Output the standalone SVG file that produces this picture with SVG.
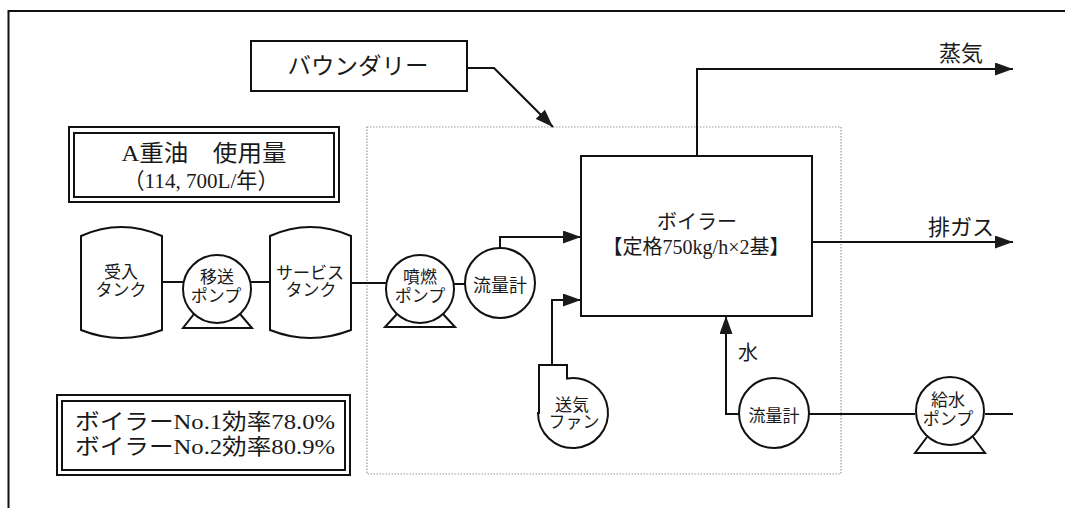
<svg xmlns="http://www.w3.org/2000/svg" width="1065" height="508" viewBox="0 0 1065 508">
<defs>
<marker id="ah" viewBox="0 0 18 13" refX="18" refY="6.5" markerWidth="18" markerHeight="13" markerUnits="userSpaceOnUse" orient="auto">
<path d="M0,0 L18,6.5 L0,13 z" fill="#1a1a1a"/>
</marker>
<style>
.ln{fill:none;stroke:#111;stroke-width:2}
.sh{fill:#fff;stroke:#111;stroke-width:2}
.bd{fill:none;stroke:#999;stroke-width:1.2;stroke-dasharray:1.5 1.5}
text{font-family:"Liberation Serif","Noto Sans CJK JP",serif;fill:#1a1a1a;text-anchor:middle}
.s17{font-size:17px}
.s18{font-size:18px}
.s20{font-size:20px}
.s22{font-size:22px}
.s23{font-size:23px}
</style>
</defs>
<rect width="1065" height="508" fill="#fff"/>
<path class="ln" d="M8.5,508 L8.5,11 L1065,11"/>
<rect class="bd" x="367" y="127" width="474" height="347"/>

<g id="connectors">
<path class="ln" d="M162,282 L183,282"/>
<path class="ln" d="M251,282 L270,282"/>
<path class="ln" d="M351,283 L386,283"/>
<path class="ln" d="M454,284 L465,284"/>
<path class="ln" d="M500,248 L500,237 L581,237" marker-end="url(#ah)"/>
<path class="ln" d="M552,365 L552,300 L581,300" marker-end="url(#ah)"/>
<path class="ln" d="M697,156 L697,69 L1013,69" marker-end="url(#ah)"/>
<path class="ln" d="M812,242 L1013,242" marker-end="url(#ah)"/>
<path class="ln" d="M1013,414 L985,414"/>
<path class="ln" d="M915,414 L809,414"/>
<path class="ln" d="M740,414 L726,414 L726,316" marker-end="url(#ah)"/>
<path class="ln" d="M466,68 L494,68 L553,127" marker-end="url(#ah)"/>
</g>

<g id="boundary-label">
<rect class="sh" x="251" y="41" width="216" height="50"/>
<text class="s23" x="358" y="74" textLength="141" lengthAdjust="spacingAndGlyphs">バウンダリー</text>
</g>

<g id="fuel-usage">
<rect class="sh" x="69" y="127" width="270" height="75"/>
<rect class="ln" x="74" y="133" width="260" height="64"/>
<text class="s23" x="204" y="161" textLength="165" lengthAdjust="spacingAndGlyphs">A重油　使用量</text>
<text class="s22" x="201" y="188" textLength="155" lengthAdjust="spacingAndGlyphs">（114, 700L/年）</text>
</g>

<g id="efficiency">
<rect class="sh" x="57" y="395" width="293" height="80"/>
<rect class="ln" x="62" y="401" width="283" height="69"/>
<text class="s22" x="205" y="429" textLength="260" lengthAdjust="spacingAndGlyphs">ボイラーNo.1効率78.0%</text>
<text class="s22" x="205" y="454" textLength="260" lengthAdjust="spacingAndGlyphs">ボイラーNo.2効率80.9%</text>
</g>

<g id="receiving-tank">
<path class="sh" d="M81,236 Q121,218 162,236 L162,330 Q121,346 81,330 Z"/>
<text class="s17" x="121" y="278">受入</text>
<text class="s17" x="121" y="296">タンク</text>
</g>

<g id="transfer-pump">
<polyline class="ln" points="194,314 183,328 252,328 240,314"/>
<circle class="sh" cx="217" cy="289" r="34"/>
<text class="s17" x="217" y="283">移送</text>
<text class="s17" x="216" y="302">ポンプ</text>
</g>

<g id="service-tank">
<path class="sh" d="M270,236 Q310,218 351,236 L351,330 Q310,346 270,330 Z"/>
<text class="s17" x="310" y="279">サービス</text>
<text class="s17" x="311" y="296">タンク</text>
</g>

<g id="burner-pump">
<polyline class="ln" points="397,314 385,327 455,327 443,314"/>
<circle class="sh" cx="420" cy="289" r="34"/>
<text class="s17" x="420" y="283">噴燃</text>
<text class="s17" x="420" y="302">ポンプ</text>
</g>

<g id="flowmeter-fuel">
<circle class="sh" cx="500" cy="283" r="35"/>
<text class="s18" x="500" y="292">流量計</text>
</g>

<g id="fan">
<path class="sh" d="M539,413 L539,365 L567,365 L567,378.5 A35,35 0 1 1 538,413 Z"/>
<text class="s17" x="572" y="411">送気</text>
<text class="s17" x="574" y="428">ファン</text>
</g>

<g id="boiler">
<rect class="sh" x="581" y="156" width="231" height="160"/>
<text class="s20" x="697" y="229">ボイラー</text>
<text class="s20" x="696" y="254">【定格750kg/h×2基】</text>
</g>

<g id="labels">
<text class="s22" x="961" y="61">蒸気</text>
<text class="s22" x="961" y="235">排ガス</text>
<text class="s20" x="748" y="360">水</text>
</g>

<g id="flowmeter-water">
<circle class="sh" cx="774" cy="413" r="35"/>
<text class="s17" x="774" y="422">流量計</text>
</g>

<g id="feed-pump">
<polyline class="ln" points="927,437 915,453 985,453 973,437"/>
<circle class="sh" cx="950" cy="411" r="34"/>
<text class="s17" x="948" y="406">給水</text>
<text class="s17" x="948" y="425">ポンプ</text>
</g>
</svg>
